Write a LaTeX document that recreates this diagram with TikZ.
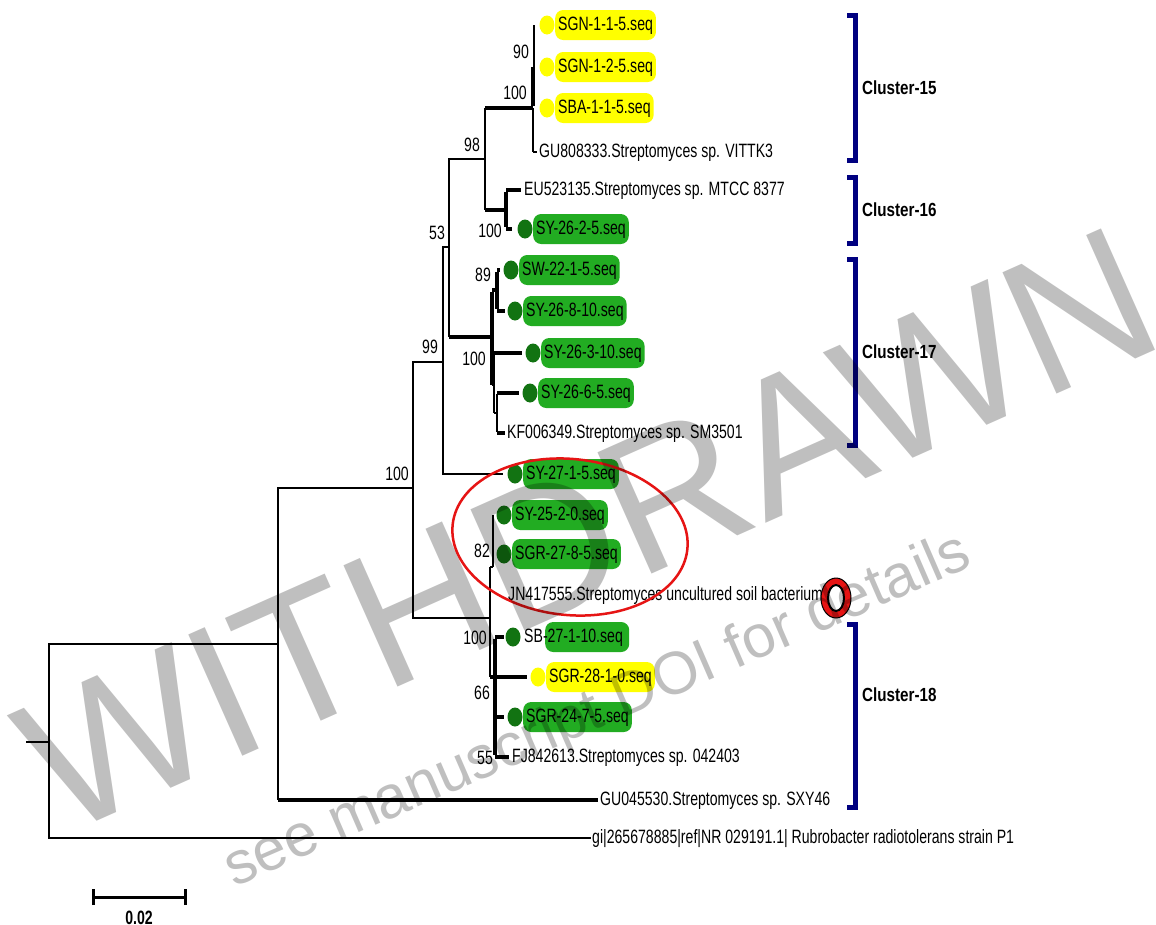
\documentclass[tikz,border=0pt]{standalone}
\usepackage{fontspec}
\setmainfont{Liberation Sans}
\newfontfamily\nfont[FakeStretch=0.73]{Liberation Sans}
\newfontfamily\cfont[FakeStretch=0.80]{Liberation Sans}
\usetikzlibrary{shapes.geometric}
\definecolor{gboxc}{RGB}{34,172,34}
\definecolor{gdotc}{RGB}{18,115,18}
\definecolor{yboxc}{RGB}{255,255,0}
\definecolor{navyc}{RGB}{0,0,128}
\definecolor{redc}{RGB}{230,20,20}
\begin{document}
\begin{tikzpicture}[x=1pt,y=-1pt,
  tb/.style={line width=1.2pt},
  mb/.style={line width=2.5pt},
  kb/.style={line width=4pt},
  lab/.style={anchor=west, inner sep=0pt, text height=14pt, text depth=3.5pt,
    font=\nfont\fontsize{19.3}{21}\selectfont},
  ybx/.style={lab, fill=yboxc, rounded corners=8pt, inner xsep=3pt, inner ysep=6.25pt},
  gbx/.style={lab, fill=gboxc, rounded corners=8pt, inner xsep=3pt, inner ysep=6.25pt},
  bs/.style={inner sep=0pt, font=\nfont\fontsize{19.3}{21}\selectfont},
  ydt/.style={ellipse, fill=yboxc, minimum width=15pt, minimum height=19pt, inner sep=0pt},
  gdt/.style={ellipse, fill=gdotc, minimum width=15pt, minimum height=19pt, inner sep=0pt},
  clab/.style={anchor=west, inner sep=0pt, font=\cfont\bfseries\fontsize{19}{20}\selectfont},
  brk/.style={draw=navyc, line width=5pt, miter limit=10},
  wmark/.style={inner sep=0pt, text=black, text opacity=0.25}
]
\fill[white] (0,0) rectangle (1156,924);
\useasboundingbox (0,0) rectangle (1156,924);

% ---------- leaves ----------
\node[ydt] (d1) at (547,25) {};  \node[ybx] (l1) at (555,25) {SGN-1-1-5.seq};
\node[ydt] (d2) at (547,67) {};  \node[ybx] (l2) at (555,67) {SGN-1-2-5.seq};
\node[ydt] (d3) at (547,108) {}; \node[ybx] (l3) at (555,108) {SBA-1-1-5.seq};
\node[lab] (l4) at (539,152) {GU808333.Streptomyces sp. VITTK3};
\node[lab] (l5) at (524,190) {EU523135.Streptomyces sp. MTCC 8377};
\node[gdt] (d6) at (525,229) {}; \node[gbx] (l6) at (533,229) {SY-26-2-5.seq};
\node[gdt] (d7) at (511,270) {}; \node[gbx] (l7) at (519,270) {SW-22-1-5.seq};
\node[gdt] (d8) at (515,311) {}; \node[gbx] (l8) at (523,311) {SY-26-8-10.seq};
\node[gdt] (d9) at (533,353) {}; \node[gbx] (l9) at (541,353) {SY-26-3-10.seq};
\node[gdt] (d10) at (530,393) {}; \node[gbx] (l10) at (538,393) {SY-26-6-5.seq};
\node[lab] (l11) at (507,433) {KF006349.Streptomyces sp. SM3501};
\node[gdt] (d12) at (515,474) {}; \node[gbx] (l12) at (523,474) {SY-27-1-5.seq};
\node[gdt] (d13) at (504,515) {}; \node[gbx] (l13) at (512,515) {SY-25-2-0.seq};
\node[gdt] (d14) at (504,554) {}; \node[gbx] (l14) at (512,554) {SGR-27-8-5.seq};
\node[lab] (l15) at (508,595) {JN417555.Streptomyces uncultured soil bacterium};
\node[gdt] (d16) at (513,637) {};
\node[fill=gboxc, rounded corners=8pt, minimum width=84pt, minimum height=30pt, inner sep=0pt, anchor=west] (bx16) at (545,637) {};
\node[lab] (l16) at (524,637) {SB-27-1-10.seq};
\node[ydt] (d17) at (538,677) {}; \node[ybx] (l17) at (546,677) {SGR-28-1-0.seq};
\node[gdt] (d18) at (515,717) {}; \node[gbx] (l18) at (523,717) {SGR-24-7-5.seq};
\node[lab] (l19) at (512,757) {FJ842613.Streptomyces sp. 042403};
\node[lab] (l20) at (600,800) {GU045530.Streptomyces sp. SXY46};
\node[lab] (l21) at (592,838) {gi|265678885|ref|NR 029191.1| Rubrobacter radiotolerans strain P1};

% ---------- internal nodes ----------
\coordinate (rs) at (26,742);
\coordinate (r) at (49,742);
\coordinate (a) at (278,644);
\coordinate (b) at (413,488);
\coordinate (c) at (443,362);
\coordinate (d) at (449,247);
\coordinate (f) at (485,159);
\coordinate (h) at (533,108);
\coordinate (i) at (506,210);
\coordinate (g) at (492,337);
\coordinate (gc) at (497,290);
\coordinate (gd) at (494,385);
\coordinate (gb) at (497,413);
\coordinate (e) at (490,618);
\coordinate (e82) at (493,567);
\coordinate (ef) at (495,677);

% ---------- branches ----------
\draw[tb] (rs) -- (r);
\draw[tb] (r) |- (a);
\draw[tb] (r) |- ([xshift=-1pt]l21.west);
\draw[tb] (a) |- (b);
\draw[tb] (a) -- (a |- l20.west);
\draw[kb] (a |- l20.west) -- ([xshift=-2pt]l20.west);
\draw[tb] (b) |- (c);
\draw[tb] (b) |- (e);
\draw[tb] (c) |- (d);
\draw[tb] (c) |- ([xshift=-4pt]d12.west);
\draw[tb] (d) |- (f);
\draw[tb] (d) -- (d |- g);
\draw[kb] (d |- g) -- (g);
% cluster 15
\draw[tb] (f) -- (f |- h);
\draw[kb] (f |- h) -- (h);
\draw[tb] ([xshift=1pt]h |- d1) -- ([xshift=1pt]h |- d2);
\draw[kb] (h |- d2) -- ([yshift=2pt]h);
\draw[mb] (h) -- (h |- l4.west);
\draw[tb] (h |- l4.west) -- ([xshift=-2pt]l4.west);
% cluster 16
\draw[tb] (f) -- (f |- i);
\draw[kb] (f |- i) -- (i);
\draw[kb] ([yshift=-2pt]i |- l5.west) -- ([yshift=2pt]i |- d6);
\draw[kb] (i |- l5.west) -- ([xshift=-3pt]l5.west);
\draw[kb] (i |- d6) -- ([xshift=-5pt]d6.west);
% cluster 17
\draw[kb] ([yshift=-2pt]g |- gc) -- (g |- gd);
\draw[kb] (g |- gc) -- (gc);
\draw[kb] ([yshift=-2pt]gc |- d7) -- ([yshift=2pt]gc |- d8);
\draw[kb] (gc |- d7) -- ([xshift=-3pt]d7.west);
\draw[kb] (gc |- d8) -- ([xshift=-2pt]d8.west);
\draw[tb] (g |- gd) -- (gd);
\draw[tb] (gd |- d9) -- (gd |- gb);
\draw[kb] (gd |- d9) -- ([xshift=-3pt]d9.west);
\draw[tb] (gd |- gb) -- (gb);
\draw[mb] ([yshift=-1pt]gb |- d10) -- ([yshift=1pt]gb |- l11.west);
\draw[kb] (gb |- d10) -- ([xshift=-3pt]d10.west);
\draw[kb] (gb |- l11.west) -- ([xshift=-2pt]l11.west);
% cluster 18 region
\draw[tb] (e |- e82) -- (e |- ef);
\draw[tb] (e |- e82) -- (e82);
\draw[tb] (e82 |- d13) -- (e82);
\draw[kb] (e |- ef) -- ([xshift=-3pt]d17.west);
\draw[kb] ([yshift=-2pt]ef |- d16) -- ([yshift=2pt]ef |- l19.west);
\draw[kb] (ef |- d16) -- ([xshift=-1pt]d16.west);
\draw[kb] (ef |- d18) -- ([xshift=-3pt]d18.west);
\draw[kb] (ef |- l19.west) -- ([xshift=-3pt]l19.west);

% ---------- bootstrap values ----------
\node[bs] (b90) at (521,52) {90};
\node[bs] (b100a) at (515,93) {100};
\node[bs] (b98) at (472,145) {98};
\node[bs] (b53) at (437,233) {53};
\node[bs] (b100b) at (490,231) {100};
\node[bs] (b89) at (483,275) {89};
\node[bs] (b99) at (430,347) {99};
\node[bs] (b100c) at (474,359) {100};
\node[bs] (b100d) at (397,474) {100};
\node[bs] (b82) at (482,551) {82};
\node[bs] (b100e) at (475,638) {100};
\node[bs] (b66) at (482,693) {66};
\node[bs] (b55) at (485,758) {55};

% ---------- cluster brackets ----------
\draw[brk] (847,15) -- (855,15) -- (855,160) -- (847,160);
\draw[brk] (847,177) -- (855,177) -- (855,243) -- (847,243);
\draw[brk] (847,259) -- (855,259) -- (855,445) -- (847,445);
\draw[brk] (847,624) -- (855,624) -- (855,807) -- (847,807);
\node[clab] (c15) at (862,88) {Cluster-15};
\node[clab] (c16) at (862,210) {Cluster-16};
\node[clab] (c17) at (862,352) {Cluster-17};
\node[clab] (c18) at (862,695) {Cluster-18};

% ---------- highlights ----------
\draw[redc, line width=2.5pt, rotate around={-6:(570,537)}] (570,537) ellipse [x radius=118, y radius=78];
\node[ellipse, fill=redc, draw=black, line width=1pt, minimum width=30pt, minimum height=40pt, inner sep=0pt] (ring) at (836,598) {};
\node[ellipse, fill=white, draw=black, line width=2pt, minimum width=16pt, minimum height=26pt, inner sep=0pt] (ringin) at (836,598) {};

% ---------- scale bar ----------
\coordinate (sb1) at (93,897);
\coordinate (sb2) at (185,897);
\draw[line width=3pt] (sb1) -- (sb2);
\draw[line width=3pt] ([yshift=-8pt]sb1) -- ([yshift=8pt]sb1);
\draw[line width=3pt] ([yshift=-8pt]sb2) -- ([yshift=8pt]sb2);
\node[bs, font=\nfont\bfseries\fontsize{19.3}{21}\selectfont] (sbl) at (139,918) {0.02};

% ---------- watermark ----------
\node[wmark, rotate=24, font=\fontsize{193}{193}\selectfont] (wm1) at (588,530) {WITHDRAWN};
\node[wmark, rotate=23.5, font=\fontsize{60}{60}\selectfont] (wm2) at (598,712) {see manuscript DOI for details};
\end{tikzpicture}
\end{document}
